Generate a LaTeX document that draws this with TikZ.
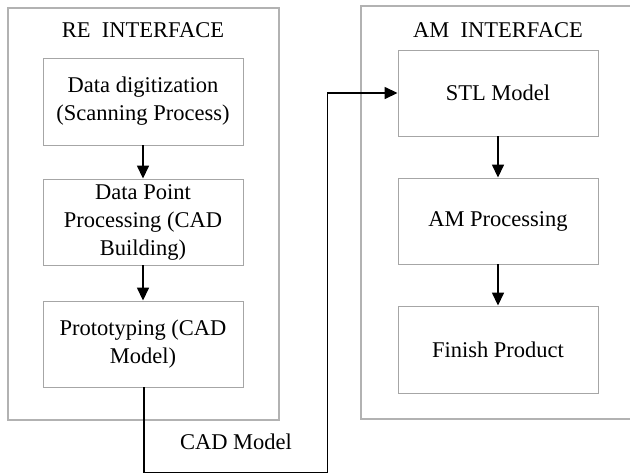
\documentclass[tikz,border=0pt]{standalone}
\usepackage{fontspec}
\setmainfont{Liberation Serif}
\usetikzlibrary{arrows.meta}
\begin{document}
\begin{tikzpicture}[x=1pt,y=-1pt,
  outerbox/.style={draw=black!30,line width=1.2pt},
  stepbox/.style={draw=black!35,line width=0.9pt,align=center,font=\fontsize{22.5}{28}\selectfont},
  lbl/.style={font=\fontsize{22.5}{28}\selectfont},
  conn/.style={draw=black,line width=1.5pt,-{Triangle[length=13pt,width=12pt]}}]
\useasboundingbox (0,0) rectangle (630,474);
\clip (0,0) rectangle (630,474);
\fill[white] (0,0) rectangle (630,474);
% outer boxes
\draw[outerbox] (8,8) rectangle (279,420);
\draw[outerbox] (361,6) rectangle (640,419);
\node[lbl] (ret) at (143,30) {RE~ INTERFACE};
\node[lbl] (amt) at (498,30) {AM~ INTERFACE};
% left steps
\node[stepbox,minimum width=200pt,minimum height=87pt] (l1) at (143,101.5) {Data digitization\\(Scanning Process)};
\node[stepbox,minimum width=200pt,minimum height=86pt,inner sep=0pt] (l2) at (143,222) {Data Point\\Processing (CAD\\Building)};
\node[stepbox,minimum width=200pt,minimum height=86pt] (l3) at (143,344) {Prototyping (CAD\\Model)};
% right steps
\node[stepbox,minimum width=200pt,minimum height=86pt] (r1) at (498,93) {STL Model};
\node[stepbox,minimum width=200pt,minimum height=86pt] (r2) at (498,221) {AM Processing};
\node[stepbox,minimum width=200pt,minimum height=87pt] (r3) at (498,349.5) {Finish Product};
% arrows
\draw[conn] (l1) -- (l2);
\draw[conn] (l2) -- (l3);
\draw[conn] (r1) -- (r2);
\draw[conn] (r2) -- (r3);
\coordinate (c1) at (144,472.5);
\coordinate (c2) at (327.5,472.5);
\coordinate (c3) at (327.5,93);
\draw[conn] (l3.south -| c1) -- (c1) -- (c2) -- (c3) -- (r1.west);
\node[lbl] (cadm) at (236,442) {CAD Model};
\end{tikzpicture}
\end{document}
